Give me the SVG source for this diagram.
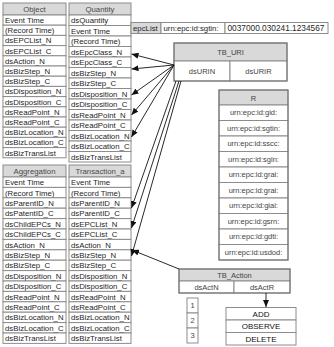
<svg xmlns="http://www.w3.org/2000/svg" width="334" height="347" viewBox="0 0 334 347">
<defs>
<style>
.bg{fill:#fff}
.c{fill:#fff;stroke:#8c8c8c;stroke-width:1}
.h{fill:#d9d9d9;stroke:#8c8c8c;stroke-width:1}
.o{fill:none;stroke:#6e6e6e;stroke-width:1}
text{font-family:"Liberation Sans",Arial,sans-serif}
.t{font-size:7.8px;fill:#1e1e1e}
.th{font-size:7.8px;fill:#4a4a4a;text-anchor:middle}
.s{font-size:7.5px;fill:#444;text-anchor:middle}
.b{font-size:8px;fill:#111;text-anchor:middle}
.conn line{stroke:#111;stroke-width:0.9;marker-end:url(#ah)}
</style>
<marker id="ah" markerUnits="userSpaceOnUse" markerWidth="7" markerHeight="6" refX="7" refY="3" orient="auto">
<path d="M0,0 L7,3 L0,6 z" fill="#111"/>
</marker>
</defs>
<rect class="bg" width="334" height="347"/>

<g id="Object">
<rect class="h" x="3" y="3" width="63" height="12"/>
<text class="th" x="34.5" y="12">Object</text>
<rect class="c" x="3" y="15" width="63" height="10.2"/><text class="t" x="5" y="23">Event Time</text>
<rect class="c" x="3" y="25.2" width="63" height="10.2"/><text class="t" x="5" y="33.2">(Record Time)</text>
<rect class="c" x="3" y="35.4" width="63" height="10.2"/><text class="t" x="5" y="43.4">dsEPCList_N</text>
<rect class="c" x="3" y="45.6" width="63" height="10.2"/><text class="t" x="5" y="53.6">dsEPCList_C</text>
<rect class="c" x="3" y="55.8" width="63" height="10.2"/><text class="t" x="5" y="63.8">dsAction_N</text>
<rect class="c" x="3" y="66" width="63" height="10.2"/><text class="t" x="5" y="74">dsBizStep_N</text>
<rect class="c" x="3" y="76.2" width="63" height="10.2"/><text class="t" x="5" y="84.2">dsBizStep_C</text>
<rect class="c" x="3" y="86.4" width="63" height="10.2"/><text class="t" x="5" y="94.4">dsDisposition_N</text>
<rect class="c" x="3" y="96.6" width="63" height="10.2"/><text class="t" x="5" y="104.6">dsDisposition_C</text>
<rect class="c" x="3" y="106.8" width="63" height="10.2"/><text class="t" x="5" y="114.8">dsReadPoint_N</text>
<rect class="c" x="3" y="117" width="63" height="10.2"/><text class="t" x="5" y="125">dsReadPoint_C</text>
<rect class="c" x="3" y="127.2" width="63" height="10.2"/><text class="t" x="5" y="135.2">dsBizLocation_N</text>
<rect class="c" x="3" y="137.4" width="63" height="10.2"/><text class="t" x="5" y="145.4">dsBizLocation_C</text>
<rect class="c" x="3" y="147.6" width="63" height="10.2"/><text class="t" x="5" y="155.6">dsBizTransList</text>
</g>

<g id="Quantity">
<rect class="h" x="69" y="3" width="62" height="12"/>
<text class="th" x="100" y="12">Quantity</text>
<rect class="c" x="69" y="15" width="62" height="10.5"/><text class="t" x="71" y="23.1">dsQuantity</text>
<rect class="c" x="69" y="25.5" width="62" height="10.5"/><text class="t" x="71" y="33.6">Event Time</text>
<rect class="c" x="69" y="36" width="62" height="10.5"/><text class="t" x="71" y="44.1">(Record Time)</text>
<rect class="c" x="69" y="46.5" width="62" height="10.5"/><text class="t" x="71" y="54.6">dsEpcClass_N</text>
<rect class="c" x="69" y="57" width="62" height="10.5"/><text class="t" x="71" y="65.1">dsEpcClass_C</text>
<rect class="c" x="69" y="67.5" width="62" height="10.5"/><text class="t" x="71" y="75.6">dsBizStep_N</text>
<rect class="c" x="69" y="78" width="62" height="10.5"/><text class="t" x="71" y="86.1">dsBizStep_C</text>
<rect class="c" x="69" y="88.5" width="62" height="10.5"/><text class="t" x="71" y="96.6">dsDisposition_N</text>
<rect class="c" x="69" y="99" width="62" height="10.5"/><text class="t" x="71" y="107.1">dsDisposition_C</text>
<rect class="c" x="69" y="109.5" width="62" height="10.5"/><text class="t" x="71" y="117.6">dsReadPoint_N</text>
<rect class="c" x="69" y="120" width="62" height="10.5"/><text class="t" x="71" y="128.1">dsReadPoint_C</text>
<rect class="c" x="69" y="130.5" width="62" height="10.5"/><text class="t" x="71" y="138.6">dsBizLocation_N</text>
<rect class="c" x="69" y="141" width="62" height="10.5"/><text class="t" x="71" y="149.1">dsBizLocation_C</text>
<rect class="c" x="69" y="151.5" width="62" height="10.5"/><text class="t" x="71" y="159.6">dsBizTransList</text>
</g>

<g id="Aggregation">
<rect class="h" x="3" y="165" width="63" height="12"/>
<text class="th" x="34.5" y="174">Aggregation</text>
<rect class="c" x="3" y="177" width="63" height="10.4"/><text class="t" x="5" y="185.1">Event Time</text>
<rect class="c" x="3" y="187.4" width="63" height="10.4"/><text class="t" x="5" y="195.5">(Record Time)</text>
<rect class="c" x="3" y="197.8" width="63" height="10.4"/><text class="t" x="5" y="205.9">dsParentID_N</text>
<rect class="c" x="3" y="208.2" width="63" height="10.4"/><text class="t" x="5" y="216.3">dsPatentID_C</text>
<rect class="c" x="3" y="218.6" width="63" height="10.4"/><text class="t" x="5" y="226.7">dsChildEPCs_N</text>
<rect class="c" x="3" y="229" width="63" height="10.4"/><text class="t" x="5" y="237.1">dsChildEPCs_C</text>
<rect class="c" x="3" y="239.4" width="63" height="10.4"/><text class="t" x="5" y="247.5">dsAction_N</text>
<rect class="c" x="3" y="249.8" width="63" height="10.4"/><text class="t" x="5" y="257.9">dsBizStep_N</text>
<rect class="c" x="3" y="260.2" width="63" height="10.4"/><text class="t" x="5" y="268.3">dsBizStep_C</text>
<rect class="c" x="3" y="270.6" width="63" height="10.4"/><text class="t" x="5" y="278.7">dsDisposition_N</text>
<rect class="c" x="3" y="281" width="63" height="10.4"/><text class="t" x="5" y="289.1">dsDisposition_C</text>
<rect class="c" x="3" y="291.4" width="63" height="10.4"/><text class="t" x="5" y="299.5">dsReadPoint_N</text>
<rect class="c" x="3" y="301.8" width="63" height="10.4"/><text class="t" x="5" y="309.9">dsReadPoint_C</text>
<rect class="c" x="3" y="312.2" width="63" height="10.4"/><text class="t" x="5" y="320.3">dsBizLocation_N</text>
<rect class="c" x="3" y="322.6" width="63" height="10.4"/><text class="t" x="5" y="330.7">dsBizLocation_C</text>
<rect class="c" x="3" y="333" width="63" height="10.4"/><text class="t" x="5" y="341.1">dsBizTransList</text>
</g>

<g id="Transaction_a">
<rect class="h" x="69" y="165" width="62" height="12"/>
<text class="th" x="100" y="174">Transaction_a</text>
<rect class="c" x="69" y="177" width="62" height="10.4"/><text class="t" x="71" y="185.1">Event Time</text>
<rect class="c" x="69" y="187.4" width="62" height="10.4"/><text class="t" x="71" y="195.5">(Record Time)</text>
<rect class="c" x="69" y="197.8" width="62" height="10.4"/><text class="t" x="71" y="205.9">dsParentID_N</text>
<rect class="c" x="69" y="208.2" width="62" height="10.4"/><text class="t" x="71" y="216.3">dsParentID_C</text>
<rect class="c" x="69" y="218.6" width="62" height="10.4"/><text class="t" x="71" y="226.7">dsEPCList_N</text>
<rect class="c" x="69" y="229" width="62" height="10.4"/><text class="t" x="71" y="237.1">dsEPCList_C</text>
<rect class="c" x="69" y="239.4" width="62" height="10.4"/><text class="t" x="71" y="247.5">dsAction_N</text>
<rect class="c" x="69" y="249.8" width="62" height="10.4"/><text class="t" x="71" y="257.9">dsBizStep_N</text>
<rect class="c" x="69" y="260.2" width="62" height="10.4"/><text class="t" x="71" y="268.3">dsBizStep_C</text>
<rect class="c" x="69" y="270.6" width="62" height="10.4"/><text class="t" x="71" y="278.7">dsDisposition_N</text>
<rect class="c" x="69" y="281" width="62" height="10.4"/><text class="t" x="71" y="289.1">dsDisposition_C</text>
<rect class="c" x="69" y="291.4" width="62" height="10.4"/><text class="t" x="71" y="299.5">dsReadPoint_N</text>
<rect class="c" x="69" y="301.8" width="62" height="10.4"/><text class="t" x="71" y="309.9">dsReadPoint_C</text>
<rect class="c" x="69" y="312.2" width="62" height="10.4"/><text class="t" x="71" y="320.3">dsBizLocation_N</text>
<rect class="c" x="69" y="322.6" width="62" height="10.4"/><text class="t" x="71" y="330.7">dsBizLocation_C</text>
<rect class="c" x="69" y="333" width="62" height="10.4"/><text class="t" x="71" y="341.1">dsBizTransList</text>
</g>

<g id="epcList">
<rect class="h" x="131" y="22.5" width="30" height="11"/>
<rect class="c" x="161" y="22.5" width="64" height="11"/>
<rect class="c" x="225" y="22.5" width="103" height="11"/>
<text class="t" x="133" y="31">epcList</text>
<text class="t" x="163.5" y="31">urn:epc:id:sgtin:</text>
<text class="t" x="227.5" y="31" style="font-size:8.3px">0037000.030241.1234567</text>
</g>

<g id="TB_URI">
<rect class="h" x="174" y="43" width="113" height="18"/>
<rect class="c" x="174" y="61" width="56" height="20"/>
<rect class="c" x="230" y="61" width="57" height="20"/>
<rect class="o" x="174" y="43" width="113" height="38"/>
<text class="s" x="230.5" y="55">TB_URI</text>
<text class="s" x="202" y="74">dsURIN</text>
<text class="s" x="258.5" y="74">dsURIR</text>
</g>

<g id="R">
<rect class="h" x="219" y="90" width="69" height="15"/>
<text class="s" x="253.5" y="100.5">R</text>
<rect class="c" x="219" y="105" width="69" height="15.5"/><text class="s" x="253.5" y="115.4">urn:epc:id:gid:</text>
<rect class="c" x="219" y="120.5" width="69" height="15.5"/><text class="s" x="253.5" y="130.9">urn:epc:id:sgtin:</text>
<rect class="c" x="219" y="136" width="69" height="15.5"/><text class="s" x="253.5" y="146.4">urn:epc:id:sscc:</text>
<rect class="c" x="219" y="151.5" width="69" height="15.5"/><text class="s" x="253.5" y="161.9">urn:epc:id:sgln:</text>
<rect class="c" x="219" y="167" width="69" height="15.5"/><text class="s" x="253.5" y="177.4">urn:epc:id:grai:</text>
<rect class="c" x="219" y="182.5" width="69" height="15.5"/><text class="s" x="253.5" y="192.9">urn:epc:id:grai:</text>
<rect class="c" x="219" y="198" width="69" height="15.5"/><text class="s" x="253.5" y="208.4">urn:epc:id:giai:</text>
<rect class="c" x="219" y="213.5" width="69" height="15.5"/><text class="s" x="253.5" y="223.9">urn:epc:id:gsrn:</text>
<rect class="c" x="219" y="229" width="69" height="15.5"/><text class="s" x="253.5" y="239.4">urn:epc:id:gdti:</text>
<rect class="c" x="219" y="244.5" width="69" height="15.5"/><text class="s" x="253.5" y="254.9">urn:epc:id:usdod:</text>
<rect class="o" x="219" y="90" width="69" height="170"/>
</g>

<g id="TB_Action">
<rect class="h" x="179" y="269" width="111" height="12"/>
<rect class="c" x="179" y="281" width="55" height="12"/>
<rect class="c" x="234" y="281" width="56" height="12"/>
<rect class="o" x="179" y="269" width="111" height="24"/>
<text class="s" x="234.5" y="277.8">TB_Action</text>
<text class="s" x="206.5" y="290">dsActN</text>
<text class="s" x="262" y="290">dsActR</text>
</g>

<g id="ActN">
<rect class="c" x="187" y="298" width="11" height="15"/><text class="s" x="192.5" y="308.2">1</text>
<rect class="c" x="187" y="313" width="11" height="15"/><text class="s" x="192.5" y="323.2">2</text>
<rect class="c" x="187" y="328" width="11" height="15"/><text class="s" x="192.5" y="338.2">3</text>
</g>

<g id="ActR">
<rect class="c" x="226" y="307.5" width="70" height="12.5"/><text class="b" x="261" y="316.6">ADD</text>
<rect class="c" x="226" y="320" width="70" height="12.5"/><text class="b" x="261" y="329.1">OBSERVE</text>
<rect class="c" x="226" y="332.5" width="70" height="12.5"/><text class="b" x="261" y="341.6">DELETE</text>
</g>

<g class="conn">
<line x1="174" y1="65" x2="131.5" y2="54"/>
<line x1="174" y1="65" x2="131.5" y2="69"/>
<line x1="174" y1="65" x2="131.5" y2="95"/>
<line x1="174" y1="65" x2="131.5" y2="115"/>
<line x1="174" y1="65" x2="131.5" y2="137"/>
<line x1="176" y1="81" x2="131.5" y2="208"/>
<line x1="179" y1="81" x2="131.5" y2="228"/>
<line x1="181" y1="81" x2="131.5" y2="256"/>
<line x1="179" y1="269" x2="132" y2="250"/>
<line x1="266" y1="293" x2="266" y2="307"/>
</g>
</svg>
